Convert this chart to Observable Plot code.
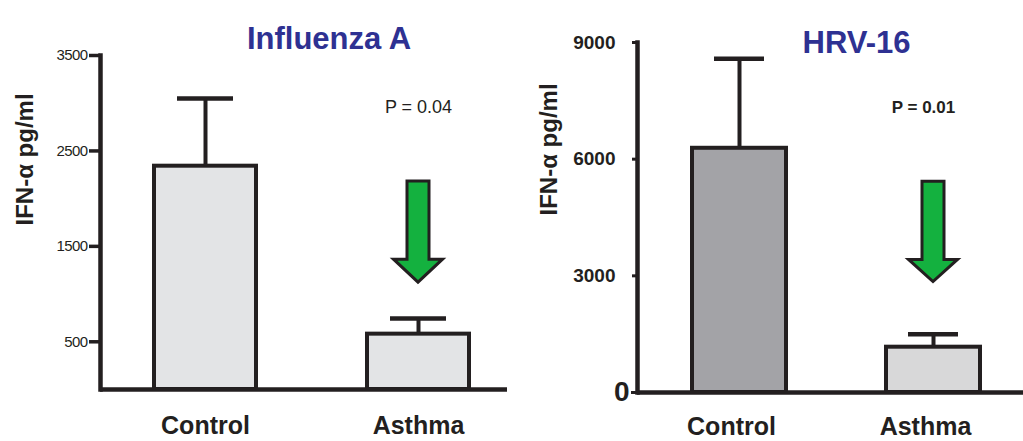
<!DOCTYPE html>
<html><head><meta charset="utf-8">
<script src="https://cdn.jsdelivr.net/npm/d3@7"></script>
<script src="https://cdn.jsdelivr.net/npm/@observablehq/plot@0.6"></script>
<style>
html,body{margin:0;padding:0;background:#fff;overflow:hidden}
#wrap{display:flex;width:1023px;height:441px}
#wrap svg{display:block}
g[aria-label="title"] text{letter-spacing:-0.8px}
#left g[aria-label="y-axis tick label"] text{letter-spacing:-0.6px}
</style></head><body><div id="wrap"><div id="left"></div><div id="right"></div></div>
<script>
// ---- data ----
const groups = ["Control", "Asthma"];
const fluMean = [2340, 580];
const fluUpper = [3050, 745];
const hrvMean = [6280, 1165];
const hrvUpper = [8580, 1500];
const fluTicks = [500, 1500, 2500, 3500];
const hrvTicks = [3000, 6000, 9000];
const hrvZeroTick = [0];
const titles = ["Influenza A", "HRV-16"];
const pLabels = ["P = 0.04", "P = 0.01"];
const pLabelY = [2960, 7320];
const fluArrow = [2180, 1360, 1120];   // shaft top, head base, tip (data units)
const hrvArrow = [5420, 3410, 2840];
const yLabel = "IFN-α pg/ml";

const FONT = "'Liberation Sans', Arial, Helvetica, sans-serif";
const INK = "#231f20";
const BLUE = "#2e3192";
const plain = d => String(d);

function arrowMark(group, [top, base, tip]) {
  return (index, scales) => {
    const bw = scales.x.bandwidth ? scales.x.bandwidth() : 0;
    const cx = scales.x(group) + bw / 2;
    const yT = scales.y(top), yB = scales.y(base), yP = scales.y(tip);
    const sw = 11, hw = 24.5;
    const pts = [[cx - sw, yT], [cx + sw, yT], [cx + sw, yB], [cx + hw, yB], [cx, yP], [cx - hw, yB], [cx - sw, yB]];
    const g = d3.create("svg:g");
    g.append("path")
      .attr("d", "M" + pts.map(p => p.join(",")).join("L") + "Z")
      .attr("fill", "#14b13f").attr("stroke", INK).attr("stroke-width", 3);
    return g.node();
  };
}

const fluData = groups.map((g, i) => ({group: g, mean: fluMean[i], upper: fluUpper[i]}));
const hrvData = groups.map((g, i) => ({group: g, mean: hrvMean[i], upper: hrvUpper[i]}));

const left = Plot.plot({
  width: 520, height: 441,
  marginLeft: 100, marginRight: 13, marginTop: 55, marginBottom: 52,
  style: {fontFamily: FONT, background: "#fff", color: INK, overflow: "visible"},
  x: {domain: groups, paddingInner: 0.52, paddingOuter: 0.213, align: 0.593},
  y: {domain: [0, 3500]},
  marks: [
    Plot.ruleX(fluData, {x: "group", y1: "mean", y2: "upper", stroke: INK, strokeWidth: 4}),
    Plot.tickY(fluData, {x: "group", y: "upper", stroke: INK, strokeWidth: 4.5, inset: 23}),
    Plot.barY(fluData, {x: "group", y: "mean", fill: "#e3e4e6", stroke: INK, strokeWidth: 4}),
    Plot.frame({anchor: "left", stroke: INK, strokeWidth: 4.5}),
    Plot.ruleY([0], {stroke: INK, strokeWidth: 4.5}),
    Plot.axisY(fluTicks, {tickSize: 11, tickPadding: 2, strokeWidth: 3.5, fontSize: 15, tickFormat: plain, label: null}),
    Plot.axisX({tickSize: 0, tickPadding: 27, fontSize: 25, fontWeight: "bold", label: null}),
    arrowMark("Asthma", fluArrow),
    Plot.text([{group: "Asthma", y: pLabelY[0], label: pLabels[0]}], {x: "group", y: "y", text: "label", fontSize: 18, fill: INK}),
    Plot.text([titles[0]], {frameAnchor: "top", dx: 25, dy: -29, fontSize: 31, fontWeight: "bold", fill: BLUE, ariaLabel: "title"}),
    Plot.text([yLabel], {frameAnchor: "left", rotate: -90, dx: -75, dy: 3, fontSize: 24, fontWeight: "bold", fill: INK})
  ]
});

const right = Plot.plot({
  width: 503, height: 441,
  marginLeft: 117, marginRight: 0, marginTop: 42, marginBottom: 49,
  style: {fontFamily: FONT, background: "#fff", color: INK, overflow: "visible"},
  x: {domain: groups, paddingInner: 0.517, paddingOuter: 0.251, align: 0.564},
  y: {domain: [0, 9000]},
  marks: [
    Plot.ruleX(hrvData, {x: "group", y1: "mean", y2: "upper", stroke: INK, strokeWidth: 4}),
    Plot.tickY(hrvData, {x: "group", y: "upper", stroke: INK, strokeWidth: 4.5, inset: 22}),
    Plot.barY(hrvData, {x: "group", y: "mean", fill: d => d.group === "Control" ? "#a3a3a7" : "#d8d8d9", stroke: INK, strokeWidth: 4}),
    Plot.frame({anchor: "left", stroke: INK, strokeWidth: 4.5}),
    Plot.ruleY([0], {stroke: INK, strokeWidth: 4.5}),
    Plot.axisY(hrvTicks, {tickSize: 5, tickPadding: 17, strokeWidth: 3, fontSize: 19, fontWeight: "bold", tickFormat: plain, label: null}),
    Plot.axisY(hrvZeroTick, {tickSize: 6, tickPadding: 2, strokeWidth: 3, fontSize: 28, fontWeight: "bold", tickFormat: plain, label: null}),
    Plot.axisX({tickSize: 0, tickPadding: 25, dx: -8, fontSize: 25, fontWeight: "bold", label: null}),
    arrowMark("Asthma", hrvArrow),
    Plot.text([{group: "Asthma", y: pLabelY[1], label: pLabels[1]}], {x: "group", y: "y", text: "label", dx: -10, fontSize: 17, fontWeight: "bold", fill: INK}),
    Plot.text([titles[1]], {frameAnchor: "top", dx: 26, dy: -12, fontSize: 31, fontWeight: "bold", fill: BLUE, ariaLabel: "title"}),
    Plot.text([yLabel], {frameAnchor: "left", rotate: -90, dx: -88, dy: -2, fontSize: 24, fontWeight: "bold", fill: INK})
  ]
});

document.getElementById("left").appendChild(left);
document.getElementById("right").appendChild(right);
</script>
</body></html>
